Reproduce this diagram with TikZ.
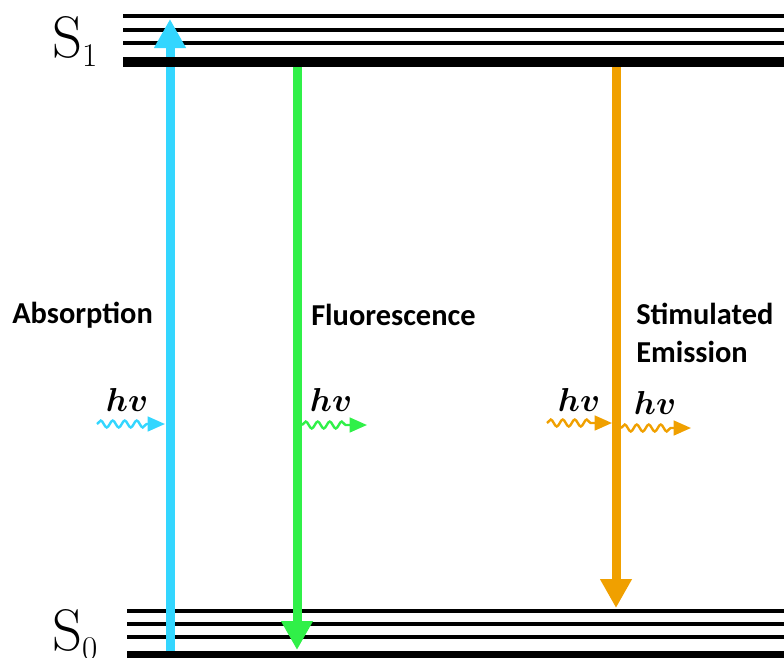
\documentclass[tikz,border=0pt]{standalone}
\usepackage{fontspec}
\usepackage{bm}
\newfontfamily\carlito{Carlito}
\usetikzlibrary{arrows.meta,decorations.pathmorphing}
\definecolor{absblue}{RGB}{51,214,255}
\definecolor{flgreen}{RGB}{48,240,72}
\definecolor{stimorange}{RGB}{240,160,0}
\begin{document}
\begin{tikzpicture}[x=0.75pt,y=-0.75pt,
  thinlevel/.style={line width=2.6pt},
  thicklevel/.style={line width=7.2pt},
  bigarrow/.style={line width=6.75pt,-{Triangle[width=22.5pt,length=21.75pt]}},
  photon/.style={line width=1.8pt,decorate,
     decoration={snake,amplitude=2.6pt,segment length=9pt,post length=13pt},
     -{Triangle[width=11pt,length=13pt]}},
  lbl/.style={font=\carlito\bfseries\fontsize{22.8}{28}\selectfont,anchor=west,inner sep=0pt},
  hvlabel/.style={font=\fontsize{24}{28}\selectfont,inner sep=0pt},
  levlabel/.style={anchor=base west,inner sep=0pt,font=\fontsize{44}{48}\selectfont}]
\useasboundingbox (0,0) rectangle (784,657);
% energy levels S1
\draw[thinlevel] (123,16) -- (784,16);
\draw[thinlevel] (123,30) -- (784,30);
\draw[thinlevel] (123,43) -- (784,43);
% coordinates for arrows
\coordinate (absbot) at (170,651);
\coordinate (abstop) at (170,19);
\coordinate (flstart) at (297,67);
\coordinate (flend) at (297,650);
\coordinate (ststart) at (616,67);
\coordinate (stend) at (616,608);
% S0 thin levels
\draw[thinlevel] (127,611) -- (784,611);
\draw[thinlevel] (127,624) -- (784,624);
\draw[thinlevel] (127,637) -- (784,637);
% big arrows
\draw[bigarrow,absblue] (absbot) -- (abstop);
\draw[bigarrow,flgreen] (flstart) -- (flend);
\draw[bigarrow,stimorange] (ststart) -- (stend);
% thick levels
\draw[thicklevel] (123,62) -- (784,62);
\draw[thicklevel] (127,656) -- (784,656);
% level labels
\node[levlabel] (s1) at (52,57) {$\mathrm{S}_1$};
\node[levlabel] (s0) at (52,650) {$\mathrm{S}_0$};
% process labels
\node[lbl] (abs) at (12,315) {Absorption};
\node[lbl] (fl) at (311,315) {Fluorescence};
\node[lbl,align=left,font=\carlito\bfseries\fontsize{22.8}{28}\selectfont] (st) at (636,333) {Stimulated\\Emission};
% photon labels
\node[hvlabel] (hvA) at (127,400) {$\bm{hv}$};
\node[hvlabel] (hvF) at (331,400) {$\bm{hv}$};
\node[hvlabel] (hvO) at (579,400) {$\bm{hv}$};
\node[hvlabel] (hvR) at (655,403) {$\bm{hv}$};
% photons
\coordinate (pa1) at (97,424);
\coordinate (pa2) at (165,424);
\coordinate (pf1) at (302,425);
\coordinate (pf2) at (367,425);
\coordinate (po1) at (547,423);
\coordinate (po2) at (612,423);
\coordinate (pr1) at (621,428);
\coordinate (pr2) at (691,428);
\draw[photon,absblue] (pa1) -- (pa2);
\draw[photon,flgreen] (pf1) -- (pf2);
\draw[photon,stimorange] (po1) -- (po2);
\draw[photon,stimorange] (pr1) -- (pr2);
\end{tikzpicture}
\end{document}
